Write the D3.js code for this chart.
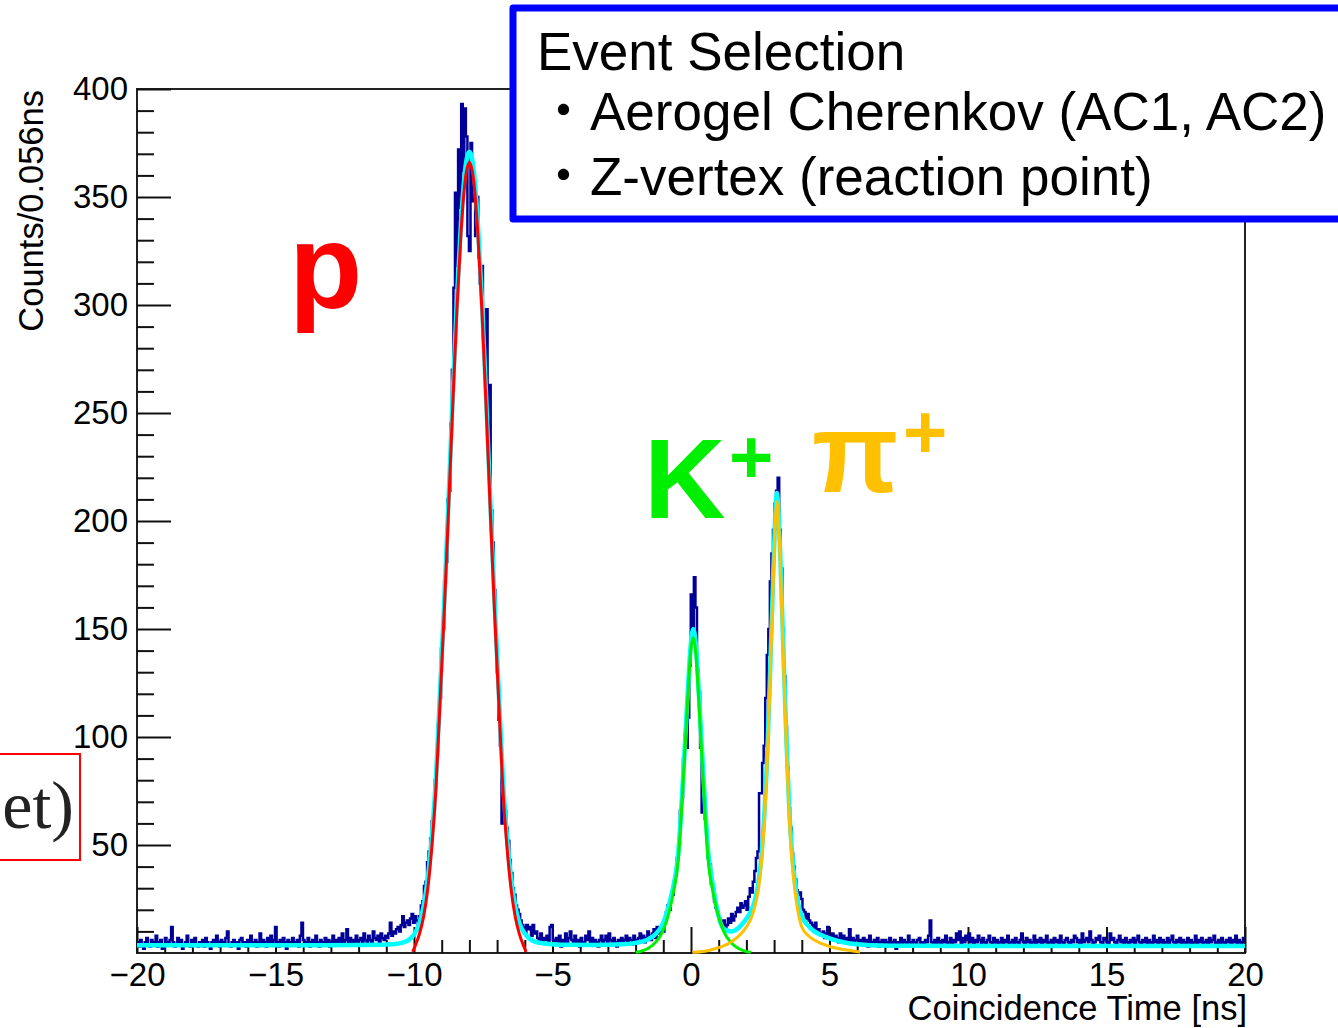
<!DOCTYPE html>
<html>
<head>
<meta charset="utf-8">
<script src="https://cdn.jsdelivr.net/npm/d3@7"></script>
<style>
  body { margin: 0; background: #fff; }
  svg { display: block; }
  .tick text { font-family: "Liberation Sans", Arial, sans-serif; font-size: 33px; fill: #000; }
  .tick line { stroke: #111; stroke-width: 2; }
</style>
</head>
<body>
<svg id="chart" width="1338" height="1028"></svg>
<script>
// Coincidence-time histogram: 0.056 ns bins starting at -20 ns
const binStart = -20;
const binWidth = 0.056;
const counts = [
  // -20 .. -11 ns : flat accidental background
  5,3,6,4,2,5,7,4,3,6,5,4,8,3,5,6,2,4,7,5,
  4,6,12,5,3,4,7,5,6,2,4,5,8,4,3,6,5,7,4,3,
  5,4,6,3,7,5,4,2,5,6,4,8,5,3,6,4,5,7,10,4,
  3,5,6,4,5,2,6,7,4,5,3,6,4,8,5,4,6,3,5,9,
  4,6,5,3,7,5,8,4,6,12,5,3,6,4,7,5,2,6,4,5,
  7,4,5,6,3,8,14,6,5,4,7,3,5,6,4,8,5,3,6,5,
  4,7,5,6,3,5,8,4,6,5,7,4,9,5,6,11,4,7,5,6,
  5,8,4,6,7,5,9,6,4,8,6,5,10,7,6,8,5,9,7,6,
  8,
  // -11 .. -10 ns : rising edge
  7,9,14,8,10,9,11,12,10,13,17,12,14,15,13,16,18,14,17,
  // proton peak
  15,13,17,22,24,31,33,42,47,53,
  61,66,80,92,106,118,141,150,172,181,
  210,214,245,270,308,352,318,372,345,393,
  362,391,378,332,325,375,348,356,332,350,
  322,310,318,285,270,298,238,263,205,190,
  168,145,130,108,96,60,74,66,58,52,
  43,37,30,27,22,20,18,15,13,12,
  9,
  // -5.9 .. -0.9 ns
  13,11,12,8,13,9,10,7,6,9,
  5,7,6,8,5,12,13,6,4,7,
  5,8,3,6,5,9,4,7,10,6,
  5,8,4,6,3,7,5,4,8,6,
  10,5,7,4,6,5,3,6,8,4,
  6,8,5,9,6,4,7,5,3,6,
  5,7,4,6,8,5,7,6,4,8,
  6,5,7,9,6,8,5,7,10,8,
  6,9,11,7,12,9,11,13,10,14,
  // kaon peak and valley
  19,22,20,26,27,33,36,44,50,66,
  72,90,101,95,109,133,166,150,174,160,
  131,121,95,65,78,62,54,44,41,32,
  30,24,21,19,16,14,12,15,11,13,
  16,14,18,15,17,19,21,19,23,21,
  22,24,20,26,30,28,33,
  // pion peak
  38,44,47,74,74,88,96,118,138,150,
  172,185,196,208,214,220,196,178,150,128,
  105,86,67,58,46,40,34,29,27,28,
  25,20,19,16,18,15,14,13,11,14,
  10,11,9,
  // pion tail
  8,10,7,9,12,8,7,9,6,8,
  7,5,9,6,8,5,7,6,11,5,
  7,4,6,8,5,6,4,7,5,6,
  3,8,5,4,6,5,7,3,5,6,
  // 7 .. 20 ns : flat background
  4,6,5,3,7,4,5,6,2,5,4,7,3,6,5,4,8,5,3,6,
  5,4,6,7,3,5,4,6,5,8,15,5,4,6,3,7,5,4,6,5,
  8,4,5,7,3,6,5,9,6,10,4,7,5,8,6,9,5,7,4,6,
  5,8,6,4,7,5,3,6,8,5,4,7,5,6,3,5,7,4,6,5,
  8,4,5,6,3,7,5,4,6,9,5,4,7,5,6,3,5,8,4,6,
  5,7,4,6,5,8,3,5,6,4,7,5,6,4,8,5,3,6,7,5,
  4,6,5,8,7,5,6,4,9,5,6,7,5,10,6,4,5,7,6,8,
  5,4,7,6,5,3,9,6,7,5,4,6,8,5,6,4,7,5,3,6,
  5,7,4,6,8,5,4,6,5,7,3,6,5,4,8,5,6,4,7,5,
  6,4,5,7,3,6,8,5,4,6,5,7,4,6,5,3,7,5,6,4,
  5,8,4,6,5,7,3,5,6,4,7,5,6,8,4,5,6,3,7,5,
  4,6,5,7,3,6,5,8,4,6,5,4,7
];

// Fit components [time (ns), counts]
const fitProton = [
  [-10.05,0.5],[-9.95,3.5],[-9.8,9],[-9.65,17],[-9.5,30],[-9.35,50],[-9.2,78],
  [-9.05,119],[-8.9,160],[-8.75,206],[-8.6,254],[-8.45,298],[-8.3,334],[-8.15,358],
  [-8.0,366],[-7.85,358],[-7.7,334],[-7.55,298],[-7.4,254],[-7.25,206],[-7.1,160],
  [-6.95,119],[-6.8,78],[-6.65,50],[-6.5,30],[-6.35,17],[-6.2,9],[-6.05,3.5],[-5.95,0.5]
];
const fitKaon = [
  [-2.0,0.3],[-1.87,0.6],[-1.57,2],[-1.3,4.6],[-1.02,10],[-0.77,20],[-0.62,29],
  [-0.46,43],[-0.35,64],[-0.24,89],[-0.12,117],[-0.02,138],[0.08,146],[0.18,138],
  [0.28,117],[0.40,89],[0.51,64],[0.62,43],[0.78,29],[0.93,20],[1.18,10],
  [1.46,4.6],[1.73,2],[2.03,0.6],[2.16,0.3]
];
const fitPion = [
  [0.05,0.3],[0.5,0.8],[0.95,2.3],[1.3,4],[1.65,7],[2.0,12],[2.2,17],[2.35,24],
  [2.45,31],[2.55,43],[2.65,62],[2.75,88],[2.85,125],[2.95,165],[3.03,195],
  [3.1,209],[3.17,197],[3.25,170],[3.35,130],[3.45,93],[3.55,62],[3.65,42],
  [3.75,29],[3.85,20],[4.0,12],[4.2,8.5],[4.45,6],[4.7,4.4],[5.0,3],[5.5,1.6],[6.1,0.5]
];
const fitTotal = [
  [-20,3.6],[-17,3.6],[-14,3.6],[-12,3.7],[-11,3.9],[-10.6,4.3],[-10.3,5.3],
  [-10.1,7],[-9.95,9.5],[-9.8,14],[-9.65,22],[-9.5,35],[-9.35,55],[-9.2,83],
  [-9.05,124],[-8.9,165],[-8.75,211],[-8.6,259],[-8.45,303],[-8.3,339],[-8.15,363],
  [-8.0,371],[-7.85,363],[-7.7,339],[-7.55,303],[-7.4,259],[-7.25,211],[-7.1,165],
  [-6.95,124],[-6.8,83],[-6.65,55],[-6.5,35],[-6.35,22],[-6.2,14],[-6.0,9],
  [-5.7,5.6],[-5.3,4.4],[-4.5,3.8],[-3.5,3.7],[-2.5,4.0],[-2.0,4.7],[-1.6,6],
  [-1.3,8.5],[-1.02,13.5],[-0.77,23.5],[-0.62,32],[-0.46,46],[-0.35,67],[-0.24,92],
  [-0.12,120],[-0.02,141],[0.08,150],[0.18,142],[0.28,121],[0.40,93],[0.51,68],
  [0.62,47],[0.78,32],[0.93,21],[1.05,14.5],[1.2,11],[1.45,10],[1.7,11.5],
  [1.95,15],[2.15,19],[2.3,24],[2.45,34],[2.55,46],[2.65,65],[2.75,91],[2.85,128],
  [2.95,168],[3.03,199],[3.1,213],[3.17,201],[3.25,174],[3.35,134],[3.45,97],
  [3.55,66],[3.65,46],[3.75,33],[3.85,24],[4.0,17],[4.2,13],[4.45,10],[4.7,8.3],
  [5.0,6.8],[5.5,5],[6.0,4],[6.5,3.6],[8,3.3],[12,3.2],[16,3.2],[20,3.2]
];

const xMajorTicks = [-20,-15,-10,-5,0,5,10,15,20];
const yMajorTicks = [50,100,150,200,250,300,350,400];
const legendLines = ["Event Selection", "・Aerogel Cherenkov (AC1, AC2)", "・Z-vertex (reaction point)"];

const svg = d3.select("#chart");
const x = d3.scaleLinear().domain([-20, 20]).range([137, 1245]);
const y = d3.scaleLinear().domain([0, 400]).range([953, 89]);

// frame
svg.append("rect")
  .attr("x", x(-20)).attr("y", y(400))
  .attr("width", x(20) - x(-20)).attr("height", y(0) - y(400))
  .attr("fill", "none").attr("stroke", "#222").attr("stroke-width", 2);

// axes with inward ticks
const yMinor = d3.range(10, 400, 10).filter(v => v % 50 !== 0);
const xMinor = d3.range(-19, 20, 1).filter(v => v % 5 !== 0);

svg.append("g").attr("transform", `translate(${x(-20)},0)`)
  .call(d3.axisLeft(y).tickValues(yMinor).tickSize(-17).tickFormat(""))
  .call(g => g.select(".domain").remove());
svg.append("g").attr("transform", `translate(${x(-20)},0)`)
  .call(d3.axisLeft(y).tickValues(yMajorTicks).tickSize(-34).tickPadding(9).tickFormat(d3.format("d")))
  .call(g => g.select(".domain").remove());
svg.append("g").attr("transform", `translate(0,${y(0)})`)
  .call(d3.axisBottom(x).tickValues(xMinor).tickSize(-13).tickFormat(""))
  .call(g => g.select(".domain").remove());
svg.append("g").attr("transform", `translate(0,${y(0)})`)
  .call(d3.axisBottom(x).tickValues(xMajorTicks).tickSize(-26).tickPadding(10).tickFormat(d3.format("d")))
  .call(g => g.select(".domain").remove());

// axis titles
svg.append("text")
  .attr("transform", `translate(43,${y(400) + 1}) rotate(-90)`)
  .attr("text-anchor", "end")
  .style("font-family", '"Liberation Sans", Arial, sans-serif')
  .style("font-size", "34.5px")
  .text("Counts/0.056ns");
svg.append("text")
  .attr("x", 1247).attr("y", 1020)
  .attr("text-anchor", "end")
  .style("font-family", '"Liberation Sans", Arial, sans-serif')
  .style("font-size", "34.5px")
  .text("Coincidence Time [ns]");

// histogram outline
const histPts = counts.map((c, i) => [binStart + i * binWidth, c]);
histPts.push([binStart + counts.length * binWidth, counts[counts.length - 1]]);
svg.append("path")
  .attr("d", d3.line().x(d => x(d[0])).y(d => y(d[1])).curve(d3.curveStepAfter)(histPts))
  .attr("fill", "none").attr("stroke", "#000099").attr("stroke-width", 2.5);

// fit curves
const fitLine = d3.line().x(d => x(d[0])).y(d => y(d[1])).curve(d3.curveMonotoneX);
svg.append("path").attr("d", fitLine(fitTotal))
  .attr("fill", "none").attr("stroke", "#00ffff").attr("stroke-width", 4.5).attr("stroke-linejoin", "round");
[[fitProton, "#ff0000"], [fitKaon, "#00ee00"], [fitPion, "#ffc000"]].forEach(([pts, col]) => {
  svg.append("path").attr("d", fitLine(pts))
    .attr("fill", "none").attr("stroke", col).attr("stroke-width", 3).attr("stroke-linejoin", "round");
});

// particle labels
const bold = '"Liberation Sans", Arial, sans-serif';
function label(tx, ty, txt, size, col) {
  svg.append("text").attr("x", tx).attr("y", ty)
    .style("font-family", bold).style("font-weight", "bold")
    .style("font-size", size + "px").attr("fill", col).text(txt);
}
label(289, 308, "p", 120, "#ff0000");
label(644, 518, "K", 113, "#00ee00");
label(729, 483, "+", 76, "#00ee00");
label(812, 492, "π", 113, "#ffc000");
label(903, 458, "+", 76, "#ffc000");

// partially visible annotation box on the left edge
svg.append("rect").attr("x", -20).attr("y", 754).attr("width", 100).attr("height", 106)
  .attr("fill", "none").attr("stroke", "#ff0000").attr("stroke-width", 2);
svg.append("text").attr("x", 74).attr("y", 828).attr("text-anchor", "end")
  .style("font-family", '"Liberation Serif", "DejaVu Serif", serif')
  .style("font-size", "68px").attr("fill", "#222").text("et)");

// event selection box
svg.append("rect").attr("x", 513).attr("y", 8).attr("width", 900).attr("height", 211)
  .attr("fill", "#fff").attr("stroke", "#0000ff").attr("stroke-width", 7)
  .attr("stroke-linejoin", "round");
const legY = [70, 130, 195];
legendLines.forEach((t, i) => {
  svg.append("text").attr("x", 537).attr("y", legY[i])
    .style("font-family", '"Liberation Sans", Arial, "Noto Sans CJK JP", sans-serif')
    .style("font-size", "53px").attr("fill", "#000").text(t);
});
</script>
</body>
</html>
